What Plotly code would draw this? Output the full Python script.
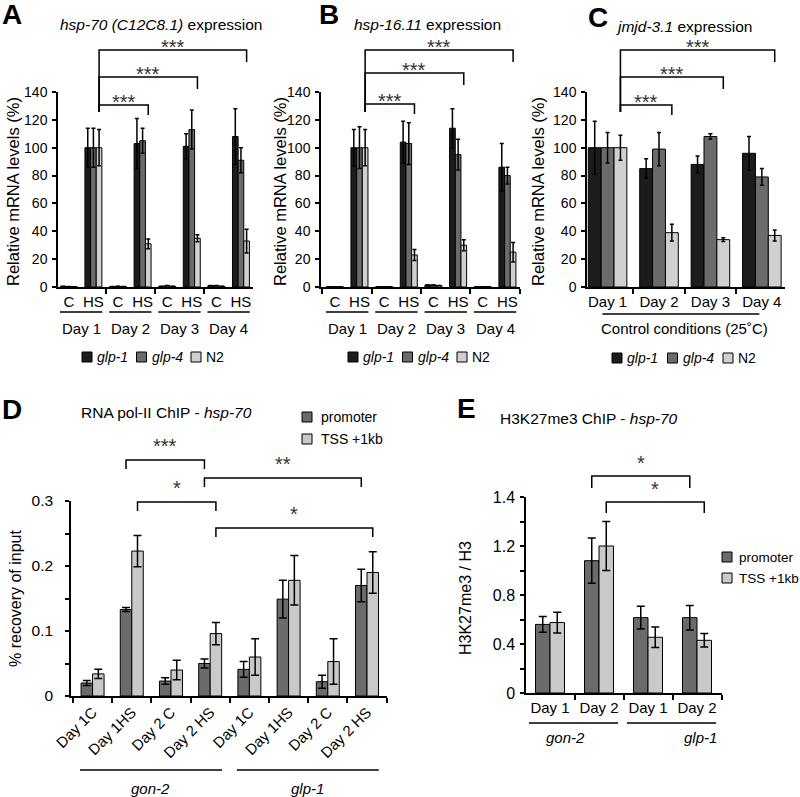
import plotly.graph_objects as go

W, H = 800, 797
FONT = "Liberation Sans, Arial, sans-serif"

# ---------------- data ----------------
strains = ["<i>glp-1</i>", "<i>glp-4</i>", "N2"]
hs_ticks = ["C", "HS", "C", "HS", "C", "HS", "C", "HS"]
days = ["Day 1", "Day 2", "Day 3", "Day 4"]

# A  hsp-70 (C12C8.1), relative mRNA levels (%)
a_glp1 = [0.5, 100, 0.3, 103, 0.5, 101, 1.0, 108]
a_glp1_err = [0, 14, 0, 18, 0, 9, 0, 20]
a_glp4 = [0.3, 100, 0.5, 105, 1.0, 113, 1.0, 91]
a_glp4_err = [0, 14, 0, 9, 0, 14, 0, 9]
a_n2 = [0.2, 100, 0.3, 31, 0.5, 35, 0.5, 33]
a_n2_err = [0, 13, 0, 3.5, 0, 2.5, 0, 8.5]

# B  hsp-16.11
b_glp1 = [0.2, 100, 0.2, 104, 1.5, 114, 0.2, 86]
b_glp1_err = [0, 13, 0, 15, 0, 14, 0, 17]
b_glp4 = [0.2, 100, 0.2, 103, 1.5, 95, 0.2, 80]
b_glp4_err = [0, 15, 0, 15, 0, 11, 0, 6]
b_n2 = [0.2, 100, 0.2, 23, 1.0, 30, 0.2, 25]
b_n2_err = [0, 13, 0, 4, 0, 4, 0, 7]

# C  jmjd-3.1, control conditions
c_glp1 = [100, 85, 88, 96]
c_glp1_err = [19, 7, 6, 12]
c_glp4 = [100, 99, 108, 79]
c_glp4_err = [11, 12, 2, 6]
c_n2 = [100, 39, 34, 37]
c_n2_err = [9, 6, 1.3, 4]

# D  RNA pol-II ChIP, % recovery of input
d_ticks = ["Day 1C", "Day 1HS", "Day 2 C", "Day 2 HS",
           "Day 1C", "Day 1HS", "Day 2 C", "Day 2 HS"]
d_groups = ["<i>gon-2</i>", "<i>glp-1</i>"]
regions = ["promoter", "TSS +1kb"]
d_prom = [0.020, 0.133, 0.023, 0.050, 0.041, 0.149, 0.022, 0.170]
d_prom_err = [0.004, 0.003, 0.005, 0.007, 0.012, 0.029, 0.010, 0.025]
d_tss = [0.034, 0.223, 0.040, 0.096, 0.060, 0.178, 0.053, 0.190]
d_tss_err = [0.007, 0.024, 0.015, 0.017, 0.028, 0.038, 0.035, 0.032]

# E  H3K27me3 ChIP, H3K27me3 / H3
e_ticks = ["Day 1", "Day 2", "Day 1", "Day 2"]
e_groups = ["<i>gon-2</i>", "<i>glp-1</i>"]
e_prom = [0.56, 1.08, 0.615, 0.615]
e_prom_err = [0.065, 0.185, 0.093, 0.10]
e_tss = [0.575, 1.20, 0.455, 0.43]
e_tss_err = [0.085, 0.20, 0.084, 0.055]
e_yvals = [0, 0.4, 0.8, 1.2, 1.6]
e_ylabels = ["0", "0.4", "0.8", "1.2", "1.4"]

# significance brackets: (category, bar index) -> (category, bar index), label
a_sig = [((1, 2), (3, 2), "***"), ((1, 2), (5, 2), "***"), ((1, 2), (7, 2), "***")]
c_sig = [((0, 2), (1, 2), "***"), ((0, 2), (2, 2), "***"), ((0, 2), (3, 2), "***")]
d_sig = [((1, 0), (3, 0), "***"), ((3, 0), (7, 0), "**"),
         ((1, 1), (3, 1), "*"), ((3, 1), (7, 1), "*")]
e_sig = [((1, 0), (3, 0), "*"), ((1, 1), (3, 1), "*")]

strain_colors = ["#1c1c1c", "#6b6b6b", "#d0d0d0"]
region_colors = ["#6b6b6b", "#c9c9c9"]


def px(x):
    return x / W


def py(y):
    return 1 - y / H


fig = go.Figure()


def add_group(xa, ya, series, errs, colors, bw, cap):
    n = len(series)
    for j, (vals, err) in enumerate(zip(series, errs)):
        fig.add_trace(go.Bar(
            x=list(range(len(vals))), y=vals, xaxis=xa, yaxis=ya,
            width=bw, offset=-n * bw / 2 + j * bw,
            marker=dict(color=colors[j], line=dict(color="black", width=1)),
            error_y=dict(type="data", array=err, color="black", thickness=1.5, width=cap),
            showlegend=False, hoverinfo="skip"))


def bar_x(k, j, n, bw):
    return k - n * bw / 2 + j * bw + bw / 2


def add_sig(xa, pairs, n, bw, levels, drops, lab_dy, size, left_bottom=None):
    for (p0, p1, lab), yt, dr in zip(pairs, levels, drops):
        x0 = bar_x(p0[0], p0[1], n, bw)
        x1 = bar_x(p1[0], p1[1], n, bw)
        yl = left_bottom if left_bottom else yt + dr
        fig.add_shape(type="path", xref=xa, yref="paper",
                      path=f"M{x0},{py(yl)} L{x0},{py(yt)} L{x1},{py(yt)} L{x1},{py(yt + dr)}",
                      line=dict(color="black", width=1.5))
        fig.add_annotation(x=(x0 + x1) / 2, y=py(yt - lab_dy), xref=xa, yref="paper",
                           text=lab, showarrow=False, yanchor="middle",
                           font=dict(family=FONT, size=size, color="#333"))


def text(x, y, s, size, xanchor="center", angle=0, bold=False, xref="paper"):
    if bold:
        s = "<b>" + s + "</b>"
    fig.add_annotation(x=x, y=py(y), xref=xref, yref="paper", text=s, showarrow=False,
                       xanchor=xanchor, yanchor="middle", textangle=angle,
                       font=dict(family=FONT, size=size, color="black"))


def hline(xa, x0, x1, y):
    fig.add_shape(type="line", xref=xa, yref="paper", x0=x0, x1=x1, y0=py(y), y1=py(y),
                  line=dict(color="black", width=1.5))


def legend_row(x_start, y, names, colors, step):
    for i, (nm, col) in enumerate(zip(names, colors)):
        x = x_start + i * step
        fig.add_shape(type="rect", xref="paper", yref="paper",
                      x0=px(x), x1=px(x + 10), y0=py(y + 5), y1=py(y - 5),
                      fillcolor=col, line=dict(color="black", width=1))
        text(px(x + 13), y, nm, 14, xanchor="left")


def legend_col(x, y_start, names, colors, step, gap=17, size=14):
    for i, (nm, col) in enumerate(zip(names, colors)):
        y = y_start + i * step
        fig.add_shape(type="rect", xref="paper", yref="paper",
                      x0=px(x), x1=px(x + 10), y0=py(y + 5), y1=py(y - 5),
                      fillcolor=col, line=dict(color="black", width=1))
        text(px(x + gap), y, nm, size, xanchor="left")


bw3 = 0.23
bwc = 0.25
bw2 = 0.293
bwe = 0.296

add_group("x", "y", [a_glp1, a_glp4, a_n2], [a_glp1_err, a_glp4_err, a_n2_err], strain_colors, bw3, 2)
add_group("x2", "y2", [b_glp1, b_glp4, b_n2], [b_glp1_err, b_glp4_err, b_n2_err], strain_colors, bw3, 2)
add_group("x3", "y3", [c_glp1, c_glp4, c_n2], [c_glp1_err, c_glp4_err, c_n2_err], strain_colors, bwc, 2)
add_group("x4", "y4", [d_prom, d_tss], [d_prom_err, d_tss_err], region_colors, bw2, 4)
add_group("x5", "y5", [e_prom, e_tss], [e_prom_err, e_tss_err], region_colors, bwe, 4)

axline = dict(showline=True, linecolor="black", linewidth=1.5, showgrid=False, zeroline=False,
              automargin=False, tickcolor="black",
              tickfont=dict(family=FONT, size=14, color="black"))


def xax(dom, rng, tv, tt, minor0, minordt, size=15, angle=0):
    return dict(axline, domain=[px(dom[0]), px(dom[1])], range=rng, tickmode="array",
                tickvals=tv, ticktext=tt, ticks="", tickangle=angle,
                tickfont=dict(family=FONT, size=size, color="black"),
                minor=dict(tickmode="linear", tick0=minor0, dtick=minordt, ticks="outside",
                           ticklen=5, tickcolor="black", tickwidth=1.5))


def yax(dom, rng, anchor, size=14, standoff=2, **kw):
    return dict(axline, domain=[py(dom[1]), py(dom[0])], range=rng, anchor=anchor,
                ticks="outside", ticklen=4, tickwidth=1.5, ticklabelstandoff=standoff,
                tickfont=dict(family=FONT, size=size, color="black"), **kw)


fig.update_layout(
    xaxis=xax((58, 253), [-0.44, 7.49], list(range(8)), hs_ticks, 1.5, 2),
    yaxis=yax((92, 287), [0, 140], "x", dtick=20),
    xaxis2=dict(xax((321, 520), [-0.56, 7.51], list(range(8)), hs_ticks, 1.5, 2), anchor="y2"),
    yaxis2=yax((92, 287), [0, 140], "x2", dtick=20),
    xaxis3=dict(xax((587, 785), [-0.4, 3.45], list(range(4)), days, 0.5, 1), anchor="y3"),
    yaxis3=yax((92, 287), [0, 140], "x3", dtick=20),
    xaxis4=dict(xax((71, 387), [-0.55, 7.51], list(range(8)), d_ticks, 0.5, 1, 15, -45), anchor="y4"),
    yaxis4=yax((501, 696), [0, 0.3], "x4", 15.5, 9, dtick=0.1,
               minor=dict(dtick=0.05, ticks="outside", ticklen=4, tickcolor="black", tickwidth=1.5)),
    xaxis5=dict(xax((526, 722), [-0.49, 3.51], list(range(4)), e_ticks, 0.5, 1, 15), anchor="y5"),
    yaxis5=yax((497, 693), [0, 1.6], "x5", 16, 2, tickmode="array", tickvals=e_yvals,
               ticktext=e_ylabels,
               minor=dict(tickmode="linear", tick0=0, dtick=0.2, ticks="outside", ticklen=4,
                          tickcolor="black", tickwidth=1.5)),
    barmode="overlay",
    width=W, height=H, margin=dict(l=0, r=0, t=0, b=0, autoexpand=False),
    paper_bgcolor="white", plot_bgcolor="white", showlegend=False,
)

# significance brackets
add_sig("x", a_sig, 3, bw3, [105, 77, 50], [10, 12, 12], 3, 20, left_bottom=112)
add_sig("x2", a_sig, 3, bw3, [104, 73, 50], [10, 12, 12], 3, 20, left_bottom=112)
add_sig("x3", c_sig, 3, bwc, [105, 77, 50], [10, 12, 12], 3, 20, left_bottom=112)
add_sig("x4", d_sig, 2, bw2, [460, 478, 502, 528], [9, 9, 9, 9], 14, 20)
add_sig("x5", e_sig, 2, bwe, [476, 502], [12, 11], 13, 20)

# panel letters and titles
for lx, ly, lt in [(0, 15, "A"), (317, 15, "B"), (586, 17, "C"), (0, 409, "D"), (455, 408, "E")]:
    text(px(lx), ly, lt, 28, xanchor="left", bold=True)
text(px(58), 25, "<i>hsp-70 (C12C8.1)</i> expression", 15.5, xanchor="left")
text(px(352), 25, "<i>hsp-16.11</i> expression", 15.5, xanchor="left")
text(px(614), 27, "<i>jmjd-3.1</i> expression", 15.5, xanchor="left")
text(px(79), 412, "RNA pol-II ChIP - <i>hsp-70</i>", 15.5, xanchor="left")
text(px(498), 418, "H3K27me3 ChIP - <i>hsp-70</i>", 15.5, xanchor="left")

# y titles
text(px(13), 192, "Relative mRNA levels (%)", 16.5, angle=-90)
text(px(280), 192, "Relative mRNA levels (%)", 16.5, angle=-90)
text(px(538), 192, "Relative mRNA levels (%)", 16.5, angle=-90)
text(px(15), 598, "% recovery of input", 16, angle=-90)
text(px(465), 598, "H3K27me3 / H3", 16, angle=-90)

# day grouping under A and B
for xa in ["x", "x2"]:
    for d, lab in enumerate(days):
        hline(xa, 2 * d - 0.36, 2 * d + 1.36, 312)
        text(2 * d + 0.5, 329, lab, 15, xref=xa)
hline("x3", -0.1, 2.95, 314)
text(1.5, 329, "Control conditions (25˚C)", 15, xref="x3")

# strain grouping under D and E
for g, lab in enumerate(d_groups):
    hline("x4", 4 * g - 0.32, 4 * g + 3.3, 770)
    text(4 * g + 1.49, 788, lab, 15, xref="x4")
for g, lab in enumerate(e_groups):
    hline("x5", 2 * g - 0.43, 2 * g + 1.39, 723)
    text(2 * g + 0.31 + g * 0.76, 737, lab, 15, xref="x5")

# legends
legend_row(82, 357, strains, strain_colors, 54.5)
legend_row(348, 357, strains, strain_colors, 54.5)
legend_row(612, 358, strains, strain_colors, 55.5)
legend_col(302, 417, regions, region_colors, 22)
legend_col(722, 557, regions, region_colors, 21, gap=15, size=13.5)

# page body has an 8px default margin; drop it so the figure sits at the window origin
fig.write_html("out.html", config={"displayModeBar": False},
               post_script="document.body.style.margin = '0px';")
